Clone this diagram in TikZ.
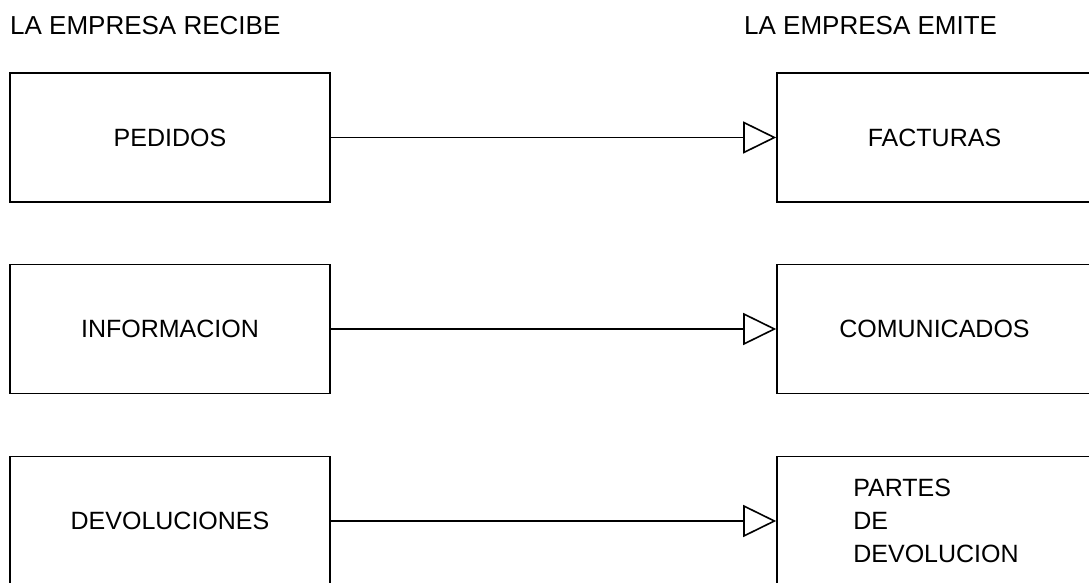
\documentclass[tikz,border=0pt]{standalone}
\usepackage{fontspec}
\setmainfont{Liberation Sans}
\usetikzlibrary{arrows.meta}
\tikzset{
  boxL/.style={draw, line width=1.6pt, minimum width=320pt, minimum height=129pt, inner sep=0pt},
  boxR/.style={draw, line width=1.6pt, minimum width=315pt, minimum height=129pt, inner sep=0pt, align=left},
  flow/.style={line width=1.6pt, -{Triangle[open, length=33pt, width=32pt]}},
  heading/.style={anchor=base west, inner sep=0pt, font=\fontsize{26}{33}\selectfont}
}
\begin{document}
\begin{tikzpicture}[x=1pt, y=-1pt, font=\fontsize{25}{33}\selectfont]
\useasboundingbox (0,0) rectangle (1089,583);
\clip (0,0) rectangle (1089,583);
\fill[white] (0,0) rectangle (1089,583);

\node[heading] (hin) at (10,35) {LA EMPRESA RECIBE};
\node[heading] (hout) at (744,35) {LA EMPRESA EMITE};

\node[boxL] (ped) at (170,137.5) {PEDIDOS};
\node[boxL] (inf) at (170,329) {INFORMACION};
\node[boxL] (dev) at (170,521) {DEVOLUCIONES};

\node[boxR] (fac) at (934.5,137.5) {FACTURAS};
\node[boxR] (com) at (934.5,329) {COMUNICADOS};
\node[boxR, minimum width=318pt] (par) at (936,521) {PARTES\\DE\\DEVOLUCION};

\draw[flow] (ped) -- (fac);
\draw[flow] (inf) -- (com);
\draw[flow] (dev) -- (par);
\end{tikzpicture}
\end{document}
